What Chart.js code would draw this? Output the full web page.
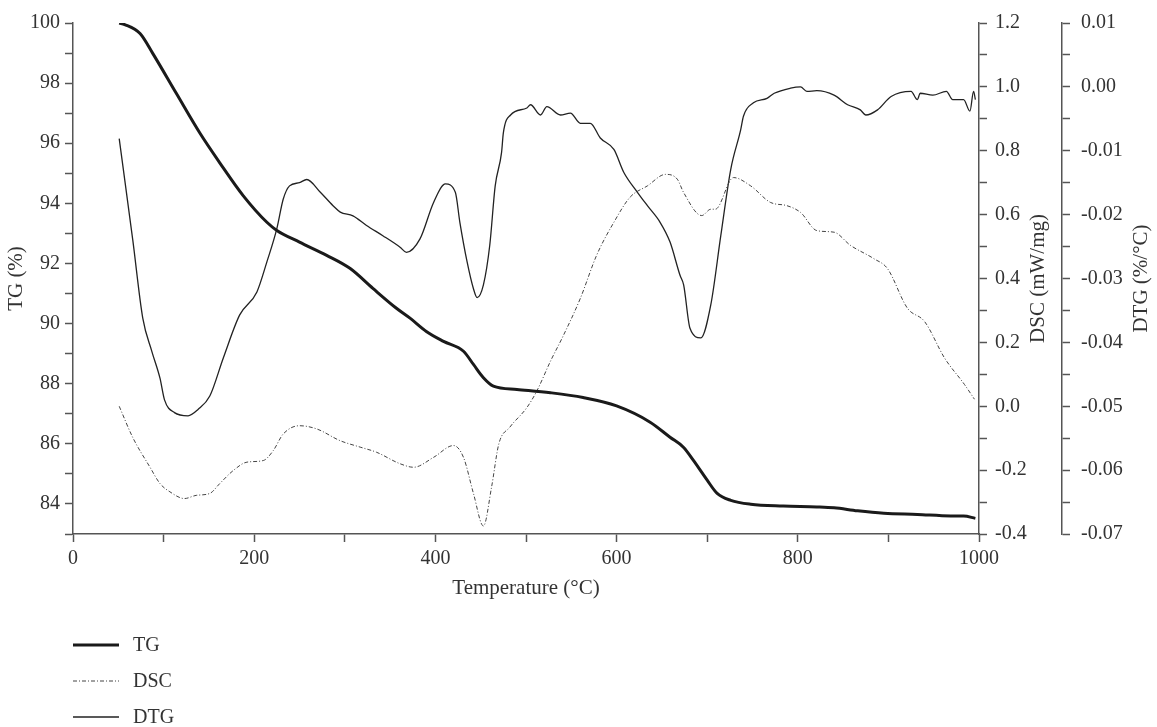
<!DOCTYPE html>
<html>
<head>
<meta charset="utf-8">
<script src="https://cdn.jsdelivr.net/npm/chart.js@4.4.0/dist/chart.umd.min.js"></script>
<style>body{margin:0;background:#fff}</style>
</head>
<body>
<canvas id="myChart" width="1157" height="727"></canvas>
<script>
// temperatures (°C) and readings for each curve
const tgTemp = [51, 57, 74, 88, 114, 140, 162, 188, 214, 225, 250, 280, 306, 331, 357, 372, 390, 409, 431, 442, 453, 464, 490, 527, 563, 600, 637, 659, 674, 685, 700, 711, 726, 748, 784, 821, 840, 866, 895, 932, 969, 983, 996]
const tgValues = [100.0, 99.95, 99.65, 98.99, 97.66, 96.34, 95.35, 94.25, 93.37, 93.1, 92.71, 92.27, 91.83, 91.17, 90.51, 90.18, 89.74, 89.41, 89.08, 88.64, 88.2, 87.92, 87.81, 87.7, 87.54, 87.26, 86.72, 86.22, 85.88, 85.44, 84.79, 84.35, 84.12, 83.99, 83.93, 83.9, 83.87, 83.77, 83.69, 83.65, 83.6, 83.6, 83.52]

const dscTemp = [51, 66, 85, 96, 107, 123, 136, 151, 162, 177, 192, 210, 221, 232, 250, 269, 295, 317, 335, 361, 376, 398, 420, 431, 442, 453, 462, 470, 482, 501, 512, 527, 541, 560, 578, 597, 615, 634, 654, 667, 674, 694, 704, 709, 729, 748, 770, 788, 803, 821, 840, 858, 884, 899, 921, 940, 962, 984, 995]
const dscValues = [0.0, -0.098, -0.191, -0.242, -0.268, -0.289, -0.279, -0.273, -0.242, -0.201, -0.175, -0.170, -0.139, -0.087, -0.061, -0.071, -0.108, -0.128, -0.144, -0.180, -0.191, -0.160, -0.123, -0.160, -0.273, -0.375, -0.253, -0.118, -0.066, -0.004, 0.048, 0.141, 0.22, 0.338, 0.473, 0.576, 0.655, 0.69, 0.726, 0.711, 0.669, 0.597, 0.617, 0.617, 0.716, 0.69, 0.638, 0.628, 0.607, 0.55, 0.545, 0.504, 0.462, 0.431, 0.307, 0.265, 0.151, 0.068, 0.022]

const dtgTemp = [51, 66, 77, 87, 96, 101, 112, 127, 138, 151, 166, 184, 203, 214, 225, 232, 239, 250, 258, 273, 287, 295, 309, 324, 342, 361, 368, 383, 398, 411, 422, 427, 435, 442, 446, 453, 460, 466, 473, 475, 483, 501, 505, 516, 523, 538, 549, 560, 571, 582, 597, 608, 623, 634, 648, 659, 670, 674, 681, 693, 704, 715, 726, 737, 740, 751, 766, 774, 792, 803, 810, 821, 840, 855, 869, 875, 888, 903, 925, 932, 935, 949, 964, 971, 983, 990, 994, 996]
const dtgValues = [-0.0081, -0.0240, -0.0362, -0.0414, -0.0456, -0.049, -0.051, -0.0515, -0.0505, -0.0484, -0.0424, -0.0357, -0.0321, -0.0274, -0.0222, -0.0176, -0.0155, -0.015, -0.0145, -0.0165, -0.0186, -0.0196, -0.0202, -0.0217, -0.0233, -0.0251, -0.0259, -0.0238, -0.0181, -0.0152, -0.0165, -0.0212, -0.0274, -0.0316, -0.033, -0.031, -0.0248, -0.0155, -0.0103, -0.0072, -0.0044, -0.0033, -0.0028, -0.0044, -0.0031, -0.0044, -0.0041, -0.0057, -0.0057, -0.008, -0.0098, -0.0134, -0.0165, -0.0186, -0.0212, -0.0243, -0.0295, -0.031, -0.0378, -0.0393, -0.0341, -0.0233, -0.0129, -0.0067, -0.0046, -0.0025, -0.0018, -0.001, -0.0002, 0.0, -0.0007, -0.0006, -0.0013, -0.0028, -0.0036, -0.0044, -0.0036, -0.0015, -0.0007, -0.002, -0.001, -0.0013, -0.0007, -0.002, -0.002, -0.0038, -0.0007, -0.002]

const seriesNames = ['TG', 'DSC', 'DTG']

const FONT = '"Liberation Serif", "DejaVu Serif", serif'
const INK = '#333'

function pairs(xs, ys) {
    return xs.map((x, i) => ({ x: x, y: ys[i] }))
}

function axisStyle() {
    return {
        border: { display: true, color: '#555', width: 1.5 },
        grid: { drawOnChartArea: false, drawTicks: true, tickLength: 8, tickColor: '#555', tickWidth: 1.5 }
    }
}

// right-side titles read bottom-to-top, plus the stacked legend under the plot
const extraText = {
    id: 'extraText',
    afterDraw(chart) {
        const ctx = chart.ctx
        const area = chart.chartArea
        const midY = (area.top + area.bottom) / 2
        ctx.save()
        ctx.fillStyle = INK
        ctx.font = '21px ' + FONT
        ctx.textAlign = 'center'
        ctx.textBaseline = 'middle'
        const titles = [
            [chart.scales.yDSC.left + 59, 'DSC (mW/mg)'],
            [chart.scales.yDTG.left + 79, 'DTG (%/°C)']
        ]
        titles.forEach(([x, t]) => {
            ctx.save()
            ctx.translate(x, midY)
            ctx.rotate(-Math.PI / 2)
            ctx.fillText(t, 0, 0)
            ctx.restore()
        })

        ctx.font = '20px ' + FONT
        ctx.textAlign = 'left'
        chart.data.datasets.forEach((ds, i) => {
            const y = area.bottom + 111 + i * 36
            ctx.save()
            ctx.strokeStyle = ds.borderColor
            ctx.lineWidth = ds.borderWidth
            ctx.setLineDash(ds.borderDash || [])
            ctx.beginPath()
            ctx.moveTo(area.left, y)
            ctx.lineTo(area.left + 46, y)
            ctx.stroke()
            ctx.restore()
            ctx.fillText(ds.label, area.left + 60, y + 1)
        })
        ctx.restore()
    }
}

Chart.defaults.font.family = FONT
Chart.defaults.font.size = 20
Chart.defaults.color = INK

var ctx = document.getElementById('myChart').getContext('2d');
var chart = new Chart(ctx, {
    type: 'line',
    data: {
        datasets: [{
            label: seriesNames[0],
            data: pairs(tgTemp, tgValues),
            yAxisID: 'yTG',
            borderColor: '#1a1a1a',
            borderWidth: 3,
            cubicInterpolationMode: 'monotone'
        }, {
            label: seriesNames[1],
            data: pairs(dscTemp, dscValues),
            yAxisID: 'yDSC',
            borderColor: '#444',
            borderWidth: 1,
            borderDash: [4, 2, 1, 2],
            cubicInterpolationMode: 'monotone'
        }, {
            label: seriesNames[2],
            data: pairs(dtgTemp, dtgValues),
            yAxisID: 'yDTG',
            borderColor: '#222',
            borderWidth: 1.3,
            cubicInterpolationMode: 'monotone'
        }]
    },
    options: {
        responsive: false,
        animation: false,
        parsing: false,
        elements: { point: { radius: 0 } },
        layout: { padding: { left: 4, right: 0, top: 19, bottom: 126 } },
        plugins: {
            legend: { display: false },
            tooltip: { enabled: false }
        },
        scales: {
            x: {
                type: 'linear',
                min: 0,
                max: 1000,
                ...axisStyle(),
                ticks: {
                    stepSize: 100,
                    autoSkip: false,
                    maxRotation: 0,
                    padding: 5,
                    callback: v => (v % 200 === 0 ? String(v) : '')
                },
                title: { display: true, text: 'Temperature (°C)', padding: 0, font: { size: 21 } },
                afterFit: s => { s.height = 67 }
            },
            yTG: {
                position: 'left',
                min: 83,
                max: 100,
                ...axisStyle(),
                ticks: {
                    stepSize: 1,
                    autoSkip: false,
                    padding: 5,
                    callback: v => (v % 2 === 0 ? String(v) : '')
                },
                title: { display: true, text: 'TG (%)', padding: 0, font: { size: 21 } },
                afterFit: s => { s.width = 69 }
            },
            yDSC: {
                position: 'right',
                weight: 0,
                min: -0.4,
                max: 1.2,
                ...axisStyle(),
                ticks: {
                    stepSize: 0.1,
                    autoSkip: false,
                    padding: 8,
                    callback: v => (Math.abs(Math.round(v * 10)) % 2 === 0 ? v.toFixed(1) : '')
                },
                afterFit: s => { s.width = 83 }
            },
            yDTG: {
                position: 'right',
                weight: 1,
                min: -0.07,
                max: 0.01,
                ...axisStyle(),
                ticks: {
                    stepSize: 0.005,
                    autoSkip: false,
                    padding: 11,
                    callback: v => (Math.abs(Math.round(v * 1000)) % 10 === 0 ? v.toFixed(2) : '')
                },
                afterFit: s => { s.width = 95 }
            }
        }
    },
    plugins: [extraText]
});
</script>
</body>
</html>
